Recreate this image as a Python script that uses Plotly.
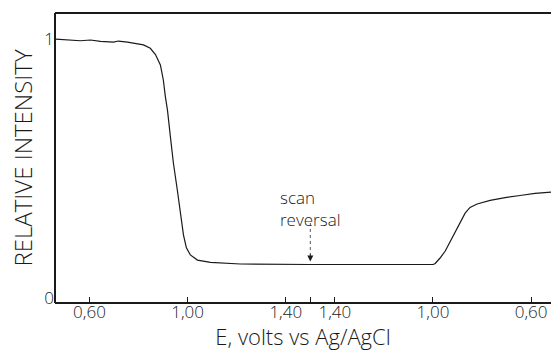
import numpy as np
import plotly.graph_objects as go

# Scan coordinate (volts swept from the 0.60 V mark on the forward sweep).
# Forward sweep runs 0.60 -> 1.50 V, then reverses back toward 0.60 V.
scan_pos = [
    -0.138, -0.091, -0.037, 0.004, 0.045, 0.098, 0.118, 0.155, 0.195, 0.220,
    0.248, 0.269, 0.289, 0.301, 0.309, 0.318, 0.330, 0.342, 0.358, 0.371,
    0.383, 0.395, 0.411, 0.440, 0.493, 0.615, 0.798, 0.900, 1.063, 1.250,
    1.401, 1.409, 1.429, 1.450, 1.470, 1.490, 1.511, 1.531, 1.551, 1.580,
    1.633, 1.694, 1.755, 1.816, 1.881,
]
rel_intensity = [
    0.999, 0.996, 0.993, 0.996, 0.991, 0.988, 0.992, 0.988, 0.983, 0.977,
    0.964, 0.940, 0.900, 0.842, 0.780, 0.725, 0.622, 0.522, 0.418, 0.322,
    0.245, 0.195, 0.168, 0.148, 0.139, 0.133, 0.131, 0.131, 0.131, 0.131,
    0.131, 0.135, 0.156, 0.183, 0.218, 0.256, 0.295, 0.329, 0.351, 0.364,
    0.378, 0.389, 0.397, 0.405, 0.410,
]

# Potential labels along the scan axis
tick_pos = [0.0, 0.4, 0.8, 0.9, 1.0, 1.4, 1.8]
tick_text = ["0,60", "1,00", "1,40", "", "1,40", "1,00", "0,60"]

reversal_pos = 0.9
y_ticks = [0, 1]
y_tick_text = ["0", "1"]

ink = "#1a1a1a"
font_family = "Open Sans, DejaVu Sans, sans-serif"

fig = go.Figure()

fig.add_trace(go.Scatter(
    x=scan_pos, y=rel_intensity, mode="lines",
    line=dict(color=ink, width=1.2),
    hoverinfo="skip", showlegend=False,
))

# dotted pointer and arrowhead at the scan reversal
level_at_reversal = float(np.interp(reversal_pos, scan_pos, rel_intensity))
fig.add_shape(
    type="line", xref="x", yref="y",
    x0=reversal_pos, x1=reversal_pos,
    y0=level_at_reversal + 0.16, y1=level_at_reversal + 0.04,
    line=dict(color="#555", width=1, dash="dot"),
)
fig.add_annotation(
    x=reversal_pos, y=level_at_reversal + 0.012, xref="x", yref="y",
    ax=0, ay=-9, axref="pixel", ayref="pixel",
    showarrow=True, arrowhead=2, arrowsize=1.2, arrowwidth=1,
    arrowcolor=ink, text="",
)

fig.add_annotation(
    x=reversal_pos - 0.13, y=level_at_reversal + 0.31,
    xref="x", yref="y", xanchor="left", yanchor="top", align="left",
    text="scan<br>reversal", showarrow=False,
    font=dict(family=font_family, size=17, color=ink, weight=300),
)

# frame: left, bottom and top edges (the right side is open)
frame = dict(color=ink, width=2)
fig.add_shape(type="line", xref="paper", yref="paper", x0=0, x1=0, y0=0, y1=1, line=frame, layer="above")
fig.add_shape(type="line", xref="paper", yref="paper", x0=0, x1=1, y0=0, y1=0, line=frame, layer="above")
fig.add_shape(type="line", xref="paper", yref="paper", x0=0, x1=1, y0=1, y1=1, line=frame, layer="above")

fig.update_layout(
    width=551, height=351,
    margin=dict(l=55, r=0, t=13, b=48),
    paper_bgcolor="white", plot_bgcolor="white",
    font=dict(family=font_family, color=ink, weight=300),
)

fig.update_xaxes(
    range=[-0.1405, 1.881],
    tickmode="array", tickvals=tick_pos, ticktext=tick_text,
    ticks="inside", ticklen=6, tickwidth=1.2, tickcolor=ink,
    tickfont=dict(size=17, color=ink, weight=300),
    ticklabelstandoff=-3,
    showline=False, showgrid=False, zeroline=False,
    title=dict(text="E, volts vs Ag/AgCl",
               font=dict(size=22, color=ink, weight=300), standoff=2),
)
fig.update_yaxes(
    range=[-0.0173, 1.100],
    tickmode="array", tickvals=y_ticks, ticktext=y_tick_text,
    ticks="", tickfont=dict(size=17, color=ink, weight=300),
    showline=False, showgrid=False, zeroline=False,
    title=dict(text="RELATIVE INTENSITY",
               font=dict(size=24, color=ink, weight=300), standoff=4),
)

fig.write_html("out.html")
